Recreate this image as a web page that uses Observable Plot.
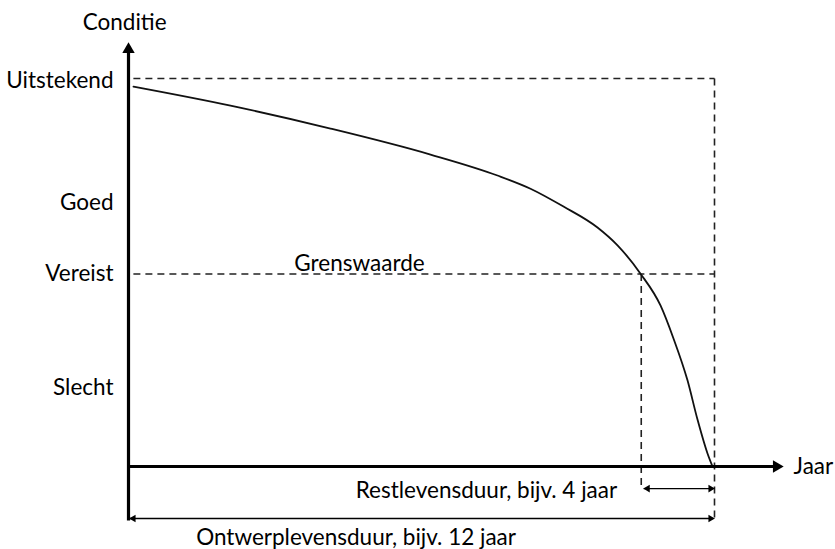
<!DOCTYPE html>
<html>
<head>
<meta charset="utf-8">
<script src="https://cdn.jsdelivr.net/npm/d3@7"></script>
<script src="https://cdn.jsdelivr.net/npm/@observablehq/plot@0.6"></script>
<style>
  html, body { margin: 0; padding: 0; background: #fff; }
  #chart svg { display: block; }
</style>
</head>
<body>
<div id="chart"></div>
<script>
// Condition curve (x = jaar, y = conditie-index 0..100)
const curveYears = [0.102, 2.089, 4.137, 6.185, 7.556, 8.232, 8.908, 9.604, 10.014, 10.485, 10.894, 11.160, 11.447, 11.652, 11.857, 11.959];
const curveCondition = [97.9, 93.0, 87.1, 80.4, 75.0, 71.6, 67.0, 61.6, 57.0, 49.7, 41.5, 33.0, 22.2, 12.1, 3.35, 0];

// Y-axis category ticks
const conditionLabels = ["Slecht", "Vereist", "Goed", "Uitstekend"];
const conditionTicks = [20.4, 49.6, 68, 99.5];

// Key values
const designLife = 12;        // Ontwerplevensduur end
const thresholdYear = 10.5;   // where curve crosses Grenswaarde
const thresholdValue = 49.6;  // Vereist / Grenswaarde
const topValue = 100;         // Uitstekend reference line
const xAxisEnd = 13.27;
const yAxisTop = 107.5;
const yAxisBottom = -13.9;
const restArrowY = -5.7;
const designArrowY = -13.4;
const dashBottomDesign = -14.4;
const dashBottomRest = -5.4;

// Annotation texts
const annText = ["Conditie", "Grenswaarde", "Restlevensduur, bijv. 4 jaar", "Ontwerplevensduur, bijv. 12 jaar"];
const annX = [-0.08, 4.73, 7.33, 4.66];
const annY = [114.4, 52.3, -6.2, -18.3];
const axisTitleX = ["Jaar"];
const axisTitleXPos = [13.62];

const curve = curveYears.map((x, i) => ({x, y: curveCondition[i]}));
const ann = annText.map((t, i) => ({t, x: annX[i], y: annY[i]}));
const jaar = axisTitleX.map((t, i) => ({t, x: axisTitleXPos[i], y: 0}));

const dashed = [
  {x1: 0.1, y1: topValue, x2: designLife, y2: topValue},
  {x1: designLife, y1: topValue, x2: designLife, y2: dashBottomDesign},
  {x1: 0.1, y1: thresholdValue, x2: designLife, y2: thresholdValue},
  {x1: thresholdYear, y1: thresholdValue, x2: thresholdYear, y2: dashBottomRest}
];
const axesLines = [
  {x1: 0, y1: yAxisBottom, x2: 0, y2: yAxisTop},
  {x1: -0.02, y1: 0, x2: xAxisEnd, y2: 0}
];
const bigHeads = [
  {x: 0, y: yAxisTop, r: 0},
  {x: xAxisEnd, y: 0, r: 90}
];
const dimLines = [
  {x1: thresholdYear + 0.05, y1: restArrowY, x2: designLife - 0.04, y2: restArrowY},
  {x1: 0.02, y1: designArrowY, x2: designLife - 0.04, y2: designArrowY}
];
const smallHeads = [
  {x: thresholdYear + 0.13, y: restArrowY, r: -90},
  {x: designLife - 0.08, y: restArrowY, r: 90},
  {x: 0.10, y: designArrowY, r: -90},
  {x: designLife - 0.08, y: designArrowY, r: 90}
];

const FS = 22.5;
const chart = Plot.plot({
  width: 835,
  height: 549,
  marginLeft: 128,
  marginRight: 121,
  marginTop: 78,
  marginBottom: 83,
  style: {fontFamily: "Lato, sans-serif", fontSize: FS + "px", color: "#000", background: "#fff"},
  x: {domain: [0, designLife], axis: null},
  y: {domain: [0, 100]},
  marks: [
    Plot.axisY({
      ticks: conditionTicks,
      tickFormat: d => conditionLabels[conditionTicks.indexOf(d)],
      tickSize: 0,
      tickPadding: 15,
      fontSize: FS,
      label: null
    }),
    Plot.link(dashed, {x1: "x1", y1: "y1", x2: "x2", y2: "y2", stroke: "#222", strokeWidth: 1.6, strokeDasharray: "7,5"}),
    Plot.line(curve, {x: "x", y: "y", curve: "monotone-x", stroke: "#111", strokeWidth: 1.8}),
    Plot.link(axesLines, {x1: "x1", y1: "y1", x2: "x2", y2: "y2", stroke: "#000", strokeWidth: 3.2}),
    Plot.dot(bigHeads, {x: "x", y: "y", rotate: "r", symbol: "triangle", r: 4.6, fill: "#000", stroke: "none"}),
    Plot.link(dimLines, {x1: "x1", y1: "y1", x2: "x2", y2: "y2", stroke: "#000", strokeWidth: 1.4}),
    Plot.dot(smallHeads, {x: "x", y: "y", rotate: "r", symbol: "triangle", r: 2.8, fill: "#000", stroke: "none"}),
    Plot.text(ann, {x: "x", y: "y", text: "t", textAnchor: "middle", fontSize: FS, fill: "#000"}),
    Plot.text(jaar, {x: "x", y: "y", text: "t", textAnchor: "start", fontSize: FS, fill: "#000"})
  ]
});
document.getElementById("chart").appendChild(chart);
</script>
</body>
</html>
